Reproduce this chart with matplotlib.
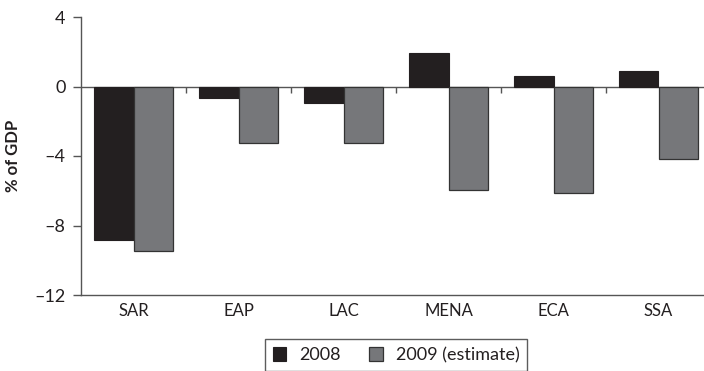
import numpy as np
import matplotlib.pyplot as plt
from matplotlib.ticker import FixedLocator, FuncFormatter

plt.rcParams['font.family'] = ['Lato', 'DejaVu Sans']

# data
regions = ['SAR', 'EAP', 'LAC', 'MENA', 'ECA', 'SSA']
val_2008 = [-8.85, -0.65, -0.95, 1.9, 0.6, 0.9]
val_2009 = [-9.45, -3.25, -3.25, -5.95, -6.15, -4.2]
series_names = ['2008', '2009 (estimate)']
y_ticks = [4, 0, -4, -8, -12]

W, H = 704, 371
fig = plt.figure(figsize=(W / 100, H / 100), dpi=100)
# axes runs slightly past the right edge, like the original
ax = fig.add_axes([81 / W, (H - 295) / H, 630 / W, 278 / H])

x = np.arange(len(regions))
bw = 0.38
b1 = ax.bar(x - bw / 2, val_2008, bw, color='#231f20', edgecolor='#231f20', linewidth=0.8,
            label=series_names[0], zorder=3)
b2 = ax.bar(x + bw / 2, val_2009, bw, color='#76777a', edgecolor='#333333', linewidth=0.9,
            label=series_names[1], zorder=3)

ax.set_xlim(-0.5, len(regions) - 0.5)
ax.set_ylim(-12, 4)

# zero line with small ticks between the groups
ax.axhline(0, color='#555555', lw=1.0, zorder=2)
ax.vlines(x[:-1] + 0.5, -0.35, 0, color='#555555', lw=1.0, zorder=2)

for s in ['top', 'right']:
    ax.spines[s].set_visible(False)
for s in ['left', 'bottom']:
    ax.spines[s].set_color('#555555')
    ax.spines[s].set_linewidth(1.0)

ax.set_xticks(x)
ax.set_xticklabels(regions, fontsize=12, color='#231f20')
ax.tick_params(axis='x', length=0, pad=6)

ax.yaxis.set_major_locator(FixedLocator(y_ticks))
ax.yaxis.set_major_formatter(FuncFormatter(lambda v, p: ('%d' % v).replace('-', '\u2013')))
ax.tick_params(axis='y', length=6, width=1.0, color='#555555', labelsize=13,
               labelcolor='#231f20', pad=5)

ax.set_ylabel('% of GDP', fontsize=12, fontweight='bold', color='#231f20', labelpad=10)

leg = fig.legend(handles=[b1, b2], labels=series_names, loc='upper center',
                 bbox_to_anchor=(396 / W, 1 - 339 / H), borderaxespad=0, ncol=2, fontsize=13,
                 frameon=True, fancybox=False, edgecolor='#333333',
                 handlelength=0.75, handleheight=0.75, handletextpad=0.7,
                 columnspacing=1.6, borderpad=0.45, labelcolor='#231f20')
leg.get_frame().set_linewidth(1.0)

fig.savefig('out.png', dpi=100)
